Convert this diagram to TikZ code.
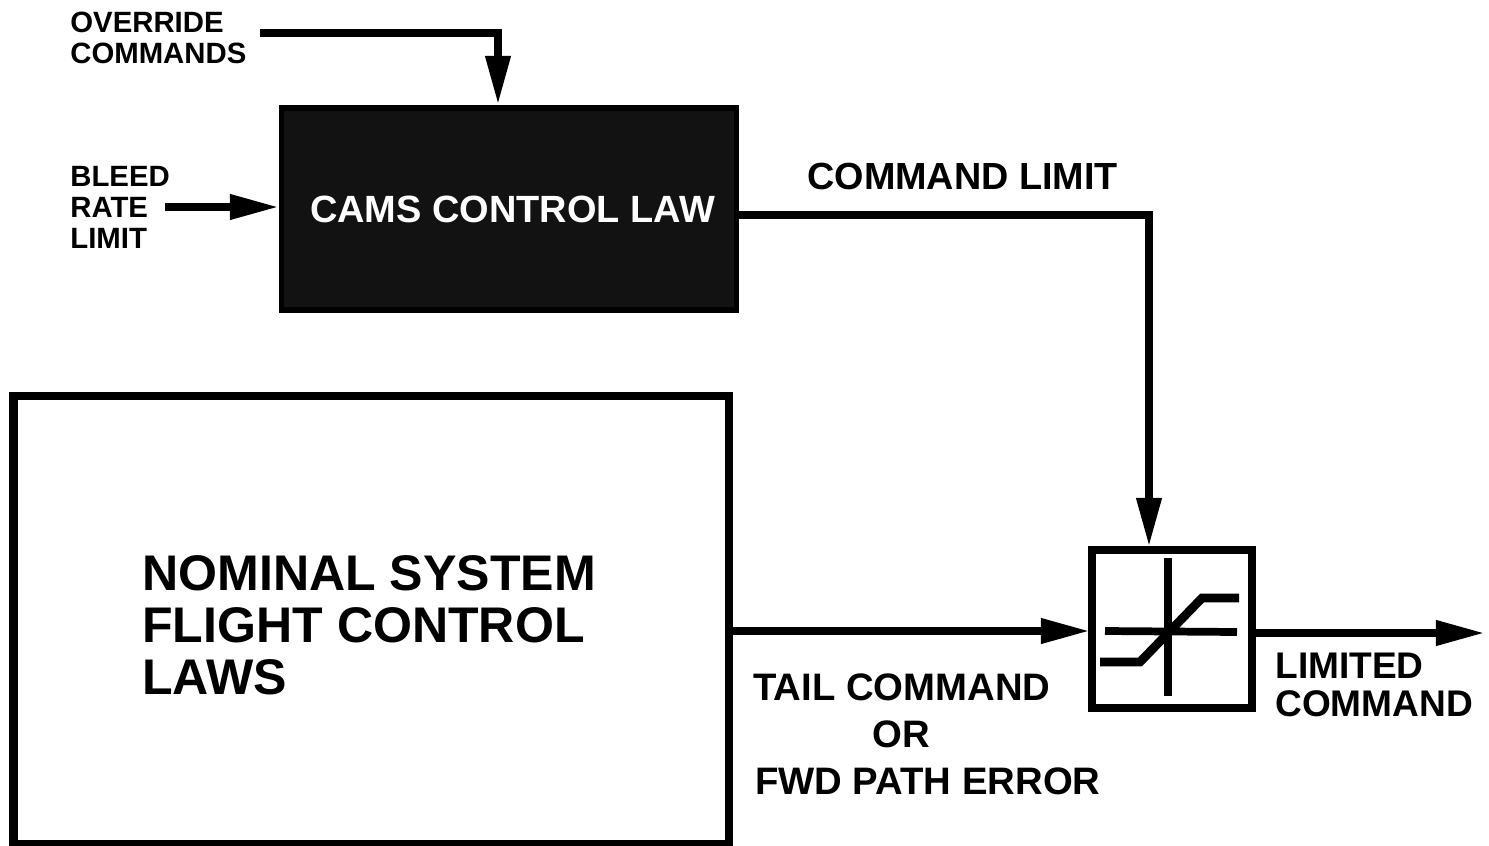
\documentclass[tikz,border=0pt]{standalone}
\usepackage{fontspec}
\setmainfont{Liberation Sans}
\usetikzlibrary{positioning, arrows.meta}

\begin{document}
\begin{tikzpicture}[
    x=0.02cm, y=-0.02cm,
    every node/.style={font=\bfseries\fontsize{16.7}{17.6}\selectfont, inner sep=0pt, align=left},
    flow/.style={line width=4.6pt, -{Triangle[length=28pt, width=13.5pt]}},
    plain/.style={line width=4.4pt},
    darkbox/.style={rectangle, draw=black, line width=3pt, fill=black!93, minimum width=259pt, minimum height=115pt, text=white, font=\bfseries\fontsize{21.6}{24}\selectfont},
    lawbox/.style={rectangle, draw=black, line width=4.6pt, minimum width=407pt, minimum height=255pt},
    limitbox/.style={rectangle, draw=black, line width=4.2pt, minimum width=91pt, minimum height=90pt},
    biglabel/.style={font=\bfseries\fontsize{28.5}{29.6}\selectfont}
]
\useasboundingbox (0,0) rectangle (1489,846);

% Blocks
\node[darkbox] (cams) at (509,209) {\hspace*{4pt}CAMS CONTROL LAW};
\node[lawbox] (nominal) at (371,620) {};
\node[biglabel, anchor=north west] (nominaltext) at (142,555) {NOMINAL SYSTEM\\FLIGHT CONTROL\\LAWS};
\node[limitbox] (limiter) at (1172,629) {};

% Labels
\node[anchor=north west] (override) at (70,12) {OVERRIDE\\COMMANDS};
\node[anchor=north west] (bleed) at (70,166) {BLEED\\RATE\\LIMIT};
\node[anchor=north west, font=\bfseries\fontsize{21.5}{24}\selectfont] (cmdlimit) at (807,163) {COMMAND LIMIT};
\node[anchor=north west, font=\bfseries\fontsize{21.8}{26.8}\selectfont] (tail) at (753,673) {TAIL COMMAND\\\hspace*{68pt}OR\\\hspace*{1pt}FWD PATH ERROR};
\node[anchor=north west, font=\bfseries\fontsize{21.1}{21.6}\selectfont] (limited) at (1275,653) {LIMITED\\COMMAND};

% Free ends
\coordinate (overridestart) at (260,33);
\coordinate (overridein) at (498,105);
\coordinate (bleedstart) at (165,207);
\coordinate (bleedin) at (279,207);
\coordinate (camsout) at (739,215);
\coordinate (limitin) at (1149,547);
\coordinate (nominalout) at (733,631);
\coordinate (errorin) at (1090,631);
\coordinate (limiterout) at (1255,633);
\coordinate (outend) at (1485,633);

% Arrows
\draw[flow] (overridestart) -| (overridein);
\draw[flow] (bleedstart) -- (bleedin);
\draw[flow] (camsout) -| (limitin);
\draw[flow] (nominalout) -- (errorin);
\draw[flow] (limiterout) -- (outend);

% Limiter symbol
\draw[plain] (1168,558) -- (1168,696);
\draw[plain] (1105,631) -- (1237,632);
\draw[plain, line width=5pt] (1100,662) -- (1140,662) -- (1202,598) -- (1239,598);

\end{tikzpicture}
\end{document}
